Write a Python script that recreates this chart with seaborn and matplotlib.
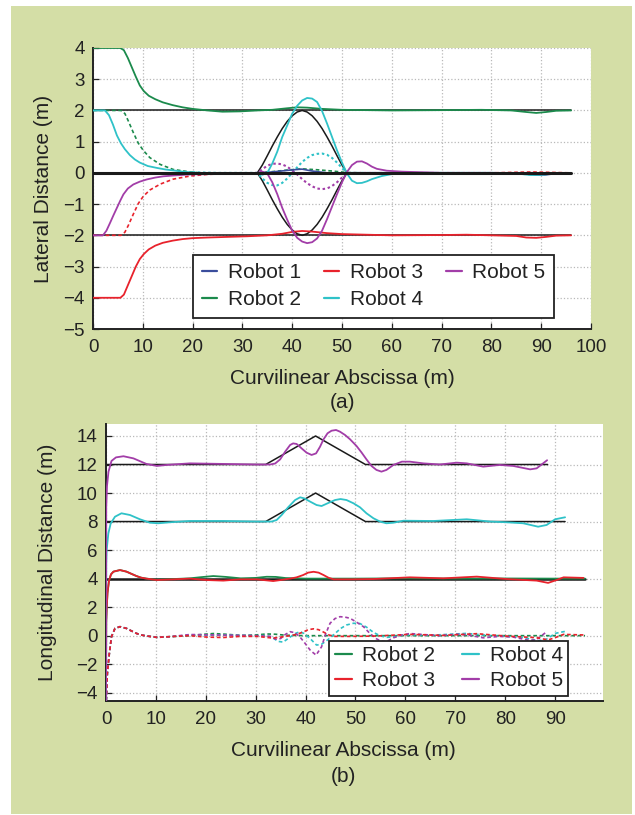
import matplotlib
matplotlib.use("Agg")
import matplotlib.pyplot as plt
from matplotlib.lines import Line2D
from matplotlib.patches import Rectangle
import pandas as pd
import seaborn as sns

# ---------------- colours ----------------
BG = "#d4dea6"
COL = {
    "Robot 1": "#3a4d9c",
    "Robot 2": "#1b8a4c",
    "Robot 3": "#e8222c",
    "Robot 4": "#2fc2c8",
    "Robot 5": "#a23da8",
}
REF = "#1a1a1a"

# ---------------- (a) lateral distance ----------------
lat_ref_x = [0, 96]
lat_ref_levels = [2, 0, -2]
lat_bump_x = [33, 34, 35, 36, 37, 38, 39, 40, 41, 42, 43, 44, 45, 46, 47, 48, 49, 50, 51]
lat_bump_up = [0, 0.25, 0.55, 0.86, 1.15, 1.42, 1.65, 1.83, 1.95, 2.0,
               1.95, 1.83, 1.65, 1.42, 1.15, 0.86, 0.55, 0.25, 0]
lat_bump_dn = [0, -0.25, -0.55, -0.86, -1.15, -1.42, -1.65, -1.83, -1.95, -2.0,
               -1.95, -1.83, -1.65, -1.42, -1.15, -0.86, -0.55, -0.25, 0]

r1_lat_x = [0, 33, 36, 39, 41, 42, 44, 47, 55, 70, 84, 87, 89, 91, 92]
r1_lat_y = [0, 0, 0.03, 0.08, 0.11, 0.12, 0.06, 0.0, 0.0, 0.0, 0.0, -0.03, -0.07, -0.06, -0.04]

r2_lat_x = [0, 5.5, 6.2, 7.0, 7.8, 8.6, 9.4, 10.2, 11.2, 12.5, 14, 16, 18, 20, 23, 26,
            29.5, 33, 36, 39, 41, 43, 46, 50, 55, 60, 70, 78, 84, 87, 89, 91, 93, 96]
r2_lat_y = [4, 4, 3.93, 3.68, 3.38, 3.08, 2.8, 2.62, 2.47, 2.36, 2.26, 2.17, 2.1, 2.05, 2.0, 1.96,
            1.97, 2.0, 2.02, 2.07, 2.1, 2.09, 2.05, 2.02, 2.01, 2.0, 2.01, 2.02, 2.0, 1.95, 1.92, 1.95, 1.99, 2.0]

r3_lat_x = [0, 5.5, 6.2, 7.0, 7.8, 8.6, 9.4, 10.2, 11.2, 12.5, 14, 16, 18, 20, 23, 27, 31,
            35, 38, 40, 42, 44, 47, 50, 55, 60, 70, 75, 80, 85, 87, 89, 91, 93, 96]
r3_lat_y = [-4, -4, -3.9, -3.6, -3.3, -3.0, -2.76, -2.6, -2.45, -2.33, -2.24, -2.17, -2.12, -2.09, -2.07, -2.05, -2.03,
            -2.0, -1.95, -1.89, -1.86, -1.88, -1.93, -1.96, -1.98, -2.0, -1.99, -1.98, -2.0, -2.02, -2.07, -2.08, -2.05, -2.01, -2.0]

r4_lat_x = [0, 2.4, 3.2, 4.0, 4.8, 5.6, 6.4, 7.4, 8.4, 9.4, 11, 12.8, 14.5, 16.1, 18, 19.5, 22, 26, 30,
            33, 34, 35, 36, 37, 38, 39, 40, 41, 42, 43, 44, 45, 46, 47, 48, 49, 50, 51, 52, 53, 54,
            55, 56, 58, 60, 63, 70, 80, 85, 88, 90, 92]
r4_lat_y = [2, 2, 1.85, 1.55, 1.2, 0.95, 0.76, 0.57, 0.43, 0.33, 0.22, 0.16, 0.11, 0.08, 0.04, 0.02, -0.01, -0.03, -0.01,
            0.0, -0.06, 0.0, 0.3, 0.68, 1.15, 1.52, 1.9, 2.15, 2.32, 2.4, 2.38, 2.27, 1.98, 1.58, 1.15, 0.72, 0.33, -0.02, -0.25, -0.33, -0.32,
            -0.27, -0.2, -0.1, -0.04, 0.0, 0.0, 0.0, -0.02, -0.07, -0.06, -0.03]

r5_lat_x = [0, 2.0, 2.7, 3.4, 4.1, 4.8, 5.5, 6.1, 7.0, 8.1, 9.4, 10.8, 12.5, 14.1, 16.5, 19.5, 23, 27, 30,
            33, 34, 35, 36, 37, 38, 39, 40, 41, 42, 43, 44, 45, 46, 47, 48, 49, 50, 51, 52, 53, 54,
            55, 56, 57, 59, 62, 66, 70, 80, 88.5]
r5_lat_y = [-2, -2, -1.85, -1.61, -1.36, -1.12, -0.88, -0.69, -0.5, -0.37, -0.28, -0.21, -0.15, -0.11, -0.08, -0.05, -0.04, -0.02, -0.01,
            0.0, 0.04, -0.02, -0.3, -0.68, -1.12, -1.5, -1.85, -2.08, -2.2, -2.25, -2.22, -2.1, -1.85, -1.48, -1.08, -0.68, -0.3, 0.03, 0.25, 0.36, 0.37,
            0.3, 0.2, 0.13, 0.07, 0.04, 0.02, 0.0, 0.0, 0.0]

# dashed / dotted error traces
e2_lat_x = [0, 5.6, 6.4, 7.1, 8.1, 9.1, 10.1, 11.4, 13.5, 16.1, 19.5, 22.8, 26, 30, 33, 36, 39,
            42, 45, 48, 51, 55, 60, 70, 80, 88, 91, 96]
e2_lat_y = [2, 2, 1.9, 1.66, 1.29, 0.95, 0.72, 0.49, 0.27, 0.11, 0.03, -0.02, -0.03, -0.01, 0.0, 0.04, 0.09,
            0.13, 0.1, 0.06, 0.01, 0.0, 0.0, 0.0, 0.0, -0.03, -0.03, -0.02]

e3_lat_x = [0, 5.6, 6.4, 7.1, 8.1, 9.1, 10.1, 11.4, 13.5, 16.1, 19.5, 22.8, 26, 30, 33, 40, 50,
            60, 70, 80, 88, 91, 96]
e3_lat_y = [-2, -2, -1.9, -1.68, -1.32, -0.98, -0.75, -0.55, -0.36, -0.2, -0.1, -0.05, -0.03, -0.01, 0.0, 0.0, 0.0,
            0.0, 0.0, 0.0, 0.03, 0.02, 0.0]

e4_lat_x = [20, 25, 30, 33, 34, 35, 36, 37, 38, 39, 40, 41, 42, 43, 44, 45, 46, 47, 48, 49, 50, 51,
            55, 60, 70, 80, 86, 89, 92]
e4_lat_y = [0.02, 0.0, 0.0, 0.0, -0.18, -0.32, -0.39, -0.4, -0.32, -0.18, 0.0, 0.18, 0.35, 0.48, 0.57, 0.61, 0.62, 0.58, 0.48, 0.33, 0.16, 0.0,
            0.0, 0.0, 0.0, 0.0, -0.03, -0.06, -0.03]

e5_lat_x = [20, 25, 30, 33, 34, 35, 36, 37, 38, 39, 40, 41, 42, 43, 44, 45, 46, 47, 48, 49, 50, 51,
            55, 60, 70, 80, 86, 88.5]
e5_lat_y = [-0.04, -0.03, -0.01, 0.0, 0.12, 0.23, 0.29, 0.3, 0.27, 0.2, 0.08, -0.05, -0.2, -0.33, -0.43, -0.5, -0.52, -0.5, -0.42, -0.3, -0.15, 0.0,
            0.0, 0.0, 0.0, 0.0, -0.02, 0.0]

# ---------------- (b) longitudinal distance ----------------
lon_ref4_x = [0, 96]
lon_ref4_y = [4, 4]
lon_ref8_x = [0, 32, 42, 52, 92]
lon_ref8_y = [8, 8, 10, 8, 8]
lon_ref12_x = [0, 32, 42, 52, 88.5]
lon_ref12_y = [12, 12, 14, 12, 12]

r2_lon_x = [0, 0.05, 0.15, 0.3, 0.6, 1.0, 1.5, 2.8, 4.1, 5.0, 6.1, 7.0, 8.1, 10.2, 13.5, 16.8, 19, 21.5,
            24, 27, 30, 32.2, 34, 36, 40, 50, 60, 70, 80, 90, 96]
r2_lon_y = [-5, 1.0, 2.0, 3.0, 3.85, 4.3, 4.49, 4.6, 4.49, 4.35, 4.18, 4.07, 4.0, 3.92, 3.97, 4.02, 4.1, 4.18,
            4.12, 4.02, 4.05, 4.13, 4.12, 4.04, 4.0, 4.0, 4.02, 4.0, 4.01, 4.0, 4.0]

r3_lon_x = [0, 0.05, 0.15, 0.3, 0.6, 1.0, 1.5, 2.8, 4.1, 5.0, 6.1, 7.0, 8.1, 10.2, 13.5, 16.8, 20.2, 23.5,
            26.9, 30.2, 33.5, 35, 36.9, 38.2, 39.5, 40.5, 41.6, 42.6, 43.6, 44.6, 45.6, 48.9, 53.6, 60.9,
            67.6, 74.3, 80.3, 86.3, 88.6, 90.3, 91.7, 95.7]
r3_lon_y = [-5, 1.0, 2.0, 3.0, 3.85, 4.3, 4.49, 4.6, 4.49, 4.35, 4.18, 4.07, 4.0, 3.9, 3.95, 4.0, 3.9, 3.86,
            3.95, 3.95, 3.83, 3.9, 4.0, 4.09, 4.25, 4.42, 4.48, 4.42, 4.25, 4.06, 3.95, 3.95, 3.97, 4.09,
            4.02, 4.14, 3.97, 3.86, 3.7, 3.9, 4.09, 4.05]

r4_lon_x = [0, 0.05, 0.13, 0.47, 0.94, 1.8, 3.1, 4.8, 6.8, 8.8, 10.5, 12.8, 16.8, 23.5, 30.2,
            33.2, 34.2, 35.2, 36.5, 37.9, 38.9, 39.7, 40.9, 42.2, 43.2, 44.4, 45.9, 47.0, 48.2, 49.6,
            50.9, 52.2, 53.6, 54.9, 56.2, 57.6, 59.6, 65.6, 72.3, 77, 80.3, 83.6, 86.6, 88.3, 90, 92]
r4_lon_y = [-5, 5.0, 6.0, 7.17, 7.87, 8.34, 8.58, 8.46, 8.16, 7.92, 7.88, 7.95, 8.04, 8.04, 8.0,
            8.0, 8.11, 8.46, 9.0, 9.51, 9.7, 9.63, 9.4, 9.16, 9.09, 9.28, 9.51, 9.58, 9.51, 9.28,
            9.0, 8.58, 8.23, 8.0, 7.88, 7.92, 8.06, 8.04, 8.16, 8.0, 7.95, 7.88, 7.64, 7.76, 8.16, 8.3]

r5_lon_x = [0, 0.05, 0.2, 0.5, 1.1, 2.0, 3.5, 5.5, 8.1, 10.2, 12.2, 16.8, 23.5, 30.2,
            32.9, 33.9, 34.9, 35.9, 36.9, 37.5, 38.2, 39.2, 40.2, 41.2, 42.1, 42.9, 43.6, 44.4, 45.2,
            46.1, 46.9, 47.9, 48.9, 50.2, 51.2, 52.2, 53.2, 54.2, 55.2, 56.2, 57.6, 59.3, 60.9, 63.6,
            66.9, 70.3, 72.3, 75.6, 78.9, 81.6, 85.0, 86.3, 88.4]
r5_lon_y = [-5, 9.0, 10.5, 11.5, 12.25, 12.5, 12.58, 12.43, 12.04, 11.9, 11.97, 12.08, 12.04, 12.0,
            12.0, 12.07, 12.36, 12.9, 13.37, 13.48, 13.44, 13.13, 12.83, 12.67, 12.78, 13.25, 13.77, 14.19, 14.37,
            14.42, 14.3, 14.07, 13.77, 13.3, 12.85, 12.36, 11.9, 11.62, 11.5, 11.62, 11.97, 12.2, 12.2, 12.08,
            12.0, 12.13, 12.08, 11.85, 11.97, 11.9, 11.66, 11.73, 12.3]

e2_lon_x = [0, 0.27, 0.67, 1.1, 1.8, 2.8, 4.1, 5.0, 6.1, 7.0, 8.1, 10.2, 12.8, 16.8, 19, 21.5, 24,
            27, 30, 32.2, 34, 36, 40, 96]
e2_lon_y = [-5, -2.64, -1.24, -0.07, 0.51, 0.63, 0.51, 0.35, 0.16, 0.05, -0.02, -0.12, -0.07, 0.0, 0.08, 0.15, 0.1,
            0.02, 0.05, 0.12, 0.1, 0.03, 0.0, 0.0]

e3_lon_x = [0, 0.27, 0.67, 1.1, 1.8, 2.8, 4.1, 5.0, 6.1, 7.0, 8.1, 10.2, 12.8, 16.8, 20.2, 23.5, 26.9,
            30.2, 33.5, 35, 36.9, 38.2, 39.5, 40.5, 41.6, 42.6, 43.6, 44.6, 45.6, 48.9, 53.6, 60.9, 67.6,
            74.3, 80.3, 86.3, 88.6, 90.3, 91.7, 95.7]
e3_lon_y = [-5, -2.64, -1.24, -0.07, 0.51, 0.63, 0.51, 0.35, 0.16, 0.05, -0.02, -0.12, -0.07, 0.0, -0.1, -0.13, -0.05,
            -0.05, -0.17, -0.1, 0.0, 0.09, 0.25, 0.42, 0.48, 0.42, 0.25, 0.06, -0.05, -0.05, -0.03, 0.09, 0.02,
            0.14, -0.03, -0.14, -0.3, -0.1, 0.09, 0.05]

e4_lon_x = [0, 0.27, 0.67, 1.1, 1.8, 2.8, 4.1, 5.0, 6.1, 7.0, 8.1, 10.2, 12.8, 16.8, 23.5, 30.2, 32,
            33.2, 34.5, 35.5, 36.9, 37.9, 38.9, 39.7, 40.9, 42.2, 43.2, 44.4, 45.9, 47.0, 48.2, 49.6, 50.9,
            52.2, 53.6, 54.9, 56.2, 57.6, 59.6, 65.6, 72.3, 77, 80.3, 83.6, 86.6, 88.3, 90, 92]
e4_lon_y = [-5, -2.64, -1.24, -0.07, 0.51, 0.63, 0.51, 0.35, 0.16, 0.05, -0.02, -0.12, -0.07, 0.04, 0.04, 0.0, 0.0,
            -0.1, -0.4, -0.45, -0.1, 0.15, 0.28, 0.15, -0.2, -0.66, -0.6, -0.3, 0.15, 0.5, 0.75, 0.87, 0.85,
            0.6, 0.23, 0.0, -0.12, -0.08, 0.06, 0.04, 0.16, 0.0, -0.05, -0.12, -0.36, -0.24, 0.16, 0.3]

e5_lon_x = [0, 0.27, 0.67, 1.1, 1.8, 2.8, 4.1, 5.0, 6.1, 7.0, 8.1, 10.2, 12.8, 16.8, 23.5, 30.2, 33,
            34, 35, 36, 36.9, 37.9, 38.9, 39.9, 41, 42.1, 43.2, 44.0, 44.9, 45.9, 46.9, 47.9, 48.9, 50.2,
            51.6, 52.9, 54.2, 55.2, 56.2, 57.6, 59.3, 60.9, 63.6, 66.9, 70.3, 72.3, 75.6, 78.9, 81.6, 85,
            86.3, 88.4]
e5_lon_y = [-5, -2.64, -1.24, -0.07, 0.51, 0.63, 0.51, 0.35, 0.16, 0.05, -0.02, -0.12, -0.07, 0.08, 0.04, 0.0, -0.05,
            -0.25, -0.2, 0.1, 0.28, 0.2, -0.1, -0.54, -1.05, -1.36, -0.78, 0.1, 0.87, 1.2, 1.33, 1.3, 1.22, 0.95,
            0.63, 0.15, -0.22, -0.4, -0.42, -0.15, 0.05, 0.15, 0.08, 0.0, 0.1, 0.06, -0.15, -0.05, -0.1, -0.34,
            -0.27, 0.3]

lat_ticks_x = list(range(0, 101, 10))
lat_ticks_y = list(range(-5, 5))
lon_ticks_x = list(range(0, 91, 10))
lon_ticks_y = list(range(-4, 15, 2))

# ---------------- styling ----------------
sns.set_theme(style="white")
plt.rcParams["font.family"] = ["Liberation Sans", "DejaVu Sans"]
plt.rcParams["axes.unicode_minus"] = True

DASH = (0, (2.2, 1.6))
DOT = (0, (1.2, 1.3))
INK = "#222222"

fig = plt.figure(figsize=(6.35, 8.15), dpi=100)
fig.patch.set_facecolor("white")
fig.patches.append(Rectangle((11 / 635, 1 / 815), 621 / 635, 808 / 815,
                             transform=fig.transFigure, facecolor=BG,
                             edgecolor="none", zorder=-10))

ax1 = fig.add_axes([93 / 635, 1 - 329 / 815, 498 / 635, 281 / 815])
ax2 = fig.add_axes([106 / 635, 1 - 701 / 815, 497 / 635, 277 / 815])


def trace(ax, x, y, color, ls="-", lw=1.2, z=3):
    df = pd.DataFrame({"x": x, "y": y})
    sns.lineplot(data=df, x="x", y="y", ax=ax, color=color, linestyle=ls,
                 linewidth=lw, sort=False, estimator=None, zorder=z, legend=False)


# ---- (a) ----
for lev in lat_ref_levels:
    trace(ax1, lat_ref_x, [lev, lev], REF, lw=2.2 if lev == 0 else 1.1,
          z=4 if lev == 0 else 2.5)
trace(ax1, lat_bump_x, lat_bump_up, REF, lw=1.1, z=2.5)
trace(ax1, lat_bump_x, lat_bump_dn, REF, lw=1.1, z=2.5)

trace(ax1, e2_lat_x, e2_lat_y, COL["Robot 2"], ls=DASH, lw=1.2)
trace(ax1, e3_lat_x, e3_lat_y, COL["Robot 3"], ls=DASH, lw=1.2)
trace(ax1, e4_lat_x, e4_lat_y, COL["Robot 4"], ls=DOT, lw=1.5)
trace(ax1, e5_lat_x, e5_lat_y, COL["Robot 5"], ls=DOT, lw=1.5)
trace(ax1, r1_lat_x, r1_lat_y, COL["Robot 1"], lw=1.2)
trace(ax1, r2_lat_x, r2_lat_y, COL["Robot 2"], lw=1.3)
trace(ax1, r3_lat_x, r3_lat_y, COL["Robot 3"], lw=1.3)
trace(ax1, r4_lat_x, r4_lat_y, COL["Robot 4"], lw=1.3)
trace(ax1, r5_lat_x, r5_lat_y, COL["Robot 5"], lw=1.3)

# ---- (b) ----
trace(ax2, lon_ref4_x, lon_ref4_y, REF, lw=1.8, z=2.5)
trace(ax2, lon_ref8_x, lon_ref8_y, REF, lw=1.1, z=2.5)
trace(ax2, lon_ref12_x, lon_ref12_y, REF, lw=1.1, z=2.5)

trace(ax2, e2_lon_x, e2_lon_y, COL["Robot 2"], ls=DASH, lw=1.2)
trace(ax2, e4_lon_x, e4_lon_y, COL["Robot 4"], ls=DASH, lw=1.2)
trace(ax2, e5_lon_x, e5_lon_y, COL["Robot 5"], ls=DASH, lw=1.2)
trace(ax2, e3_lon_x, e3_lon_y, COL["Robot 3"], ls=DASH, lw=1.2)
trace(ax2, r2_lon_x, r2_lon_y, COL["Robot 2"], lw=1.3)
trace(ax2, r3_lon_x, r3_lon_y, COL["Robot 3"], lw=1.3)
trace(ax2, r4_lon_x, r4_lon_y, COL["Robot 4"], lw=1.3)
trace(ax2, r5_lon_x, r5_lon_y, COL["Robot 5"], lw=1.3)

# ---- axes cosmetics ----
TICK_FS = 13.5
LABEL_FS = 15


def style(ax, xt, yt, xlim, ylim):
    ax.set_facecolor("white")
    ax.set_xlim(*xlim)
    ax.set_ylim(*ylim)
    ax.set_xticks(xt)
    ax.set_yticks(yt)
    ax.grid(True, linestyle=":", color="#b9b9b9", linewidth=0.9)
    ax.set_axisbelow(True)
    for s in ("top", "right"):
        ax.spines[s].set_visible(False)
    for s in ("left", "bottom"):
        ax.spines[s].set_color(INK)
        ax.spines[s].set_linewidth(1.4)
    ax.tick_params(direction="in", length=4, width=0.9, color=INK,
                   labelsize=TICK_FS, labelcolor=INK, left=True, bottom=True)
    ax.tick_params(axis="x", pad=7)
    ax.tick_params(axis="y", pad=6)


style(ax1, lat_ticks_x, lat_ticks_y, (0, 100), (-5, 4))
style(ax2, lon_ticks_x, lon_ticks_y, (0, 99.6), (-4.58, 14.84))

ax1.set_xlabel("Curvilinear Abscissa (m)", fontsize=LABEL_FS, color=INK, va="center")
ax1.set_ylabel("Lateral Distance (m)", fontsize=LABEL_FS, color=INK, va="center")
ax1.xaxis.set_label_coords(0.5, -0.175)
ax1.yaxis.set_label_coords(-0.1, 0.5)

ax2.set_xlabel("Curvilinear Abscissa (m)", fontsize=LABEL_FS, color=INK, va="center")
ax2.set_ylabel("Longitudinal Distance (m)", fontsize=LABEL_FS, color=INK, va="center")
ax2.xaxis.set_label_coords((343 - 106) / 497, -0.178)
ax2.yaxis.set_label_coords(-0.117, 0.5)

fig.text(343 / 635, 1 - 402 / 815, "(a)", ha="center", va="center",
         fontsize=LABEL_FS, color=INK)
fig.text(343 / 635, 1 - 776 / 815, "(b)", ha="center", va="center",
         fontsize=LABEL_FS, color=INK)

# ---- legends ----
def handle(name):
    return Line2D([], [], color=COL[name], lw=1.6)


top_names = ["Robot 1", "Robot 2", "Robot 3", "Robot 4", "Robot 5"]
leg1 = ax1.legend([handle(n) for n in top_names], top_names, ncol=3,
                  loc="lower left", bbox_to_anchor=(0.2008, 0.039),
                  fontsize=15, frameon=True, fancybox=False, framealpha=1,
                  edgecolor=INK, handlelength=0.75, handletextpad=0.5,
                  columnspacing=1.1, labelspacing=0.38, borderpad=0.42,
                  borderaxespad=0)
leg1.get_frame().set_linewidth(1.3)

bot_names = ["Robot 2", "Robot 3", "Robot 4", "Robot 5"]
leg2 = ax2.legend([handle(n) for n in bot_names], bot_names, ncol=2,
                  loc="lower left", bbox_to_anchor=(0.4493, 0.018),
                  fontsize=15, frameon=True, fancybox=False, framealpha=1,
                  edgecolor=INK, handlelength=0.8, handletextpad=0.5,
                  columnspacing=1.3, labelspacing=0.28, borderpad=0.28,
                  borderaxespad=0)
leg2.get_frame().set_linewidth(1.3)
for leg in (leg1, leg2):
    for t in leg.get_texts():
        t.set_color(INK)
    leg.set_zorder(10)

fig.savefig("out.png", dpi=100, facecolor=fig.get_facecolor())
